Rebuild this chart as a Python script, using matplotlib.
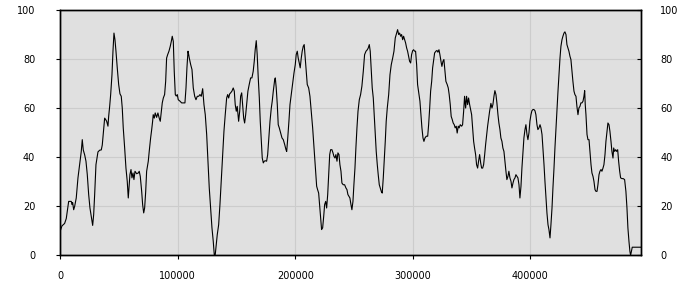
import numpy as np
import matplotlib
matplotlib.use("Agg")
import matplotlib.pyplot as plt

# positions in thousands
pos_k = [
    0, 1.45, 3.7, 5.1, 6.55, 7.15, 9.36, 9.96, 10.55, 11.4,
    12.25, 13.6, 15.06, 16.5, 17.87, 18.72, 19.57, 20.76, 21.87, 22.98,
    24.17, 25.27, 26.38, 27.57, 28.42, 29.27, 30.38, 31.23, 32.08, 33.53,
    34.89, 35.74, 36.93, 37.78, 38.64, 39.49, 40.59, 41.19, 42.04, 42.89,
    44.0, 44.85, 45.7, 46.55, 47.4, 48.5, 49.7, 50.8, 51.9, 52.76,
    53.6, 54.8, 55.9, 57.0, 57.87, 58.72,
    59.3, 60.2, 61.0, 61.9, 62.7, 63.6, 65.0, 66.4, 67.2, 68.1,
    69.3, 70.1, 71.0, 71.8, 72.7, 73.5, 74.9, 75.7, 76.9, 77.8,
    78.6, 79.1, 80.0, 80.8, 82.0, 83.1, 84.2, 85.1, 86.0, 86.8,
    87.7, 88.8, 89.7, 90.5, 91.4, 92.5, 93.6, 94.5, 95.3, 96.2,
    97.0, 97.9, 98.7, 99.6, 100.4, 101.9, 103.3, 104.7, 106.1, 107.0,
    107.8, 108.7, 109.3, 109.8, 111.0, 112.1, 113.2, 114.4, 115.5, 116.6,
    117.8, 118.9, 120.0, 121.2, 122.3,
    123.4, 124.6, 125.7, 126.8, 128.0, 129.1, 130.2, 131.1, 131.9, 132.8,
    133.6, 134.8, 135.9, 137.0, 138.2, 139.3, 140.4, 141.6, 142.5, 143.3,
    144.2, 145.0, 146.1, 147.2, 148.1, 148.9, 149.8, 150.6, 151.8, 152.7,
    153.5, 154.4, 155.2, 156.1, 156.9, 157.8, 158.9, 159.7, 160.8, 162.0,
    163.1, 164.2, 165.1, 165.9, 166.8, 167.6, 168.5, 169.4, 170.2, 171.1,
    171.9, 172.8, 173.6, 174.5, 175.6, 176.5, 177.3, 178.5, 179.6, 180.4,
    181.3, 182.5, 183.0, 183.8, 184.7, 185.5,
    186.4, 187.6, 188.7, 189.8, 191.0, 192.1, 192.7, 193.5, 194.6, 195.5,
    196.6, 197.8, 198.9, 200.0, 200.8, 201.7, 202.5, 203.4, 204.2, 205.1,
    205.9, 206.8, 207.6, 208.5, 209.3, 210.2, 211.4, 212.5, 213.6, 214.8,
    215.6, 216.5, 217.3, 218.2, 219.0, 219.9, 220.7, 221.6, 222.4, 223.3,
    224.2, 225.0, 225.9, 226.7, 227.6, 228.4, 229.3, 230.1, 231.2, 232.1,
    232.9, 233.8, 234.6, 235.5, 236.3, 237.2, 238.0, 238.9, 239.7, 240.8,
    242.0, 243.1,
    244.0, 244.8, 245.7, 246.5, 247.4, 248.2, 249.1, 249.9, 250.8, 251.6,
    252.5, 253.4, 254.5, 255.6, 256.7, 257.9, 259.0, 260.2, 261.3, 262.1,
    263.0, 263.8, 264.7, 265.5, 266.4, 267.2, 268.1, 268.9, 269.8, 270.6,
    271.5, 272.3, 273.2, 274.0, 274.9, 275.7, 276.6, 277.4, 278.3, 279.5,
    280.6, 281.7, 282.9, 284.0, 285.1, 286.3, 287.1, 288.0, 288.8, 289.7,
    290.5, 291.4, 292.2, 293.1, 293.9, 294.8, 295.6, 296.5, 297.3, 298.2,
    299.0, 299.9, 300.7, 301.6, 302.4, 303.3, 304.1,
    306.1, 307.0, 307.8, 308.7, 309.5, 310.4, 311.5, 312.7, 313.5, 314.4,
    315.2, 316.1, 316.9, 317.8, 318.6, 319.7, 320.6, 321.4, 322.3, 323.1,
    324.0, 324.8, 325.7, 326.5, 327.4, 328.2, 329.3, 330.2, 331.0, 331.9,
    332.7, 333.6, 334.4, 335.3, 336.1, 337.0, 337.8, 338.7, 339.5, 340.4,
    341.6, 342.4, 343.3, 344.1, 345.0, 345.8, 346.7, 347.5, 348.4, 349.2,
    350.1, 350.9, 351.8, 352.6, 353.5, 354.3, 355.2, 356.0, 356.9, 357.8,
    358.6, 359.5, 360.3, 361.2, 362.0, 362.9, 363.7, 364.6, 365.4,
    366.5, 367.4, 368.2, 369.1, 369.9, 370.8, 371.6, 372.5, 373.3, 374.2,
    375.0, 375.9, 376.7, 377.6, 378.4, 379.3, 380.1, 381.0, 381.8, 382.7,
    383.6, 384.4, 385.3, 386.1, 387.0, 387.8, 388.7, 389.5, 390.4, 391.2,
    392.1, 392.9, 393.8, 394.6, 395.5, 396.3, 397.2, 398.0, 398.9, 399.7,
    400.6, 401.4, 402.3, 403.1, 404.0, 404.8, 405.7, 406.5, 407.4, 408.3,
    409.1, 410.0, 410.8, 411.7, 412.5, 413.4, 414.2, 415.1, 415.9, 416.8,
    417.6, 418.5, 419.3, 420.2, 421.0, 421.9, 422.7, 423.6, 424.4, 425.3,
    426.1,
    427.0, 427.8, 428.7, 429.5, 430.4, 431.2, 432.1, 432.9, 433.8, 434.6,
    435.5, 436.3, 437.2, 438.0, 438.9, 439.7, 440.6, 441.4, 442.3, 443.1,
    444.0, 444.9, 445.7, 446.3, 446.8, 447.4, 448.3, 449.1, 450.0, 450.8,
    451.7, 452.5, 453.4, 454.2, 455.1, 455.9, 456.8, 457.6, 458.5, 459.3,
    460.2, 461.0, 461.9, 462.7, 463.6, 464.4, 465.3, 466.1, 467.0, 467.8,
    468.7, 469.5, 470.4, 471.0, 471.8, 472.7, 473.5, 474.4, 475.2, 476.1,
    476.9, 478.0, 479.1, 480.3, 481.4, 482.3, 483.1, 484.0, 484.8, 485.4,
    486.8, 494.0,
]

values = [
    10, 12, 13, 15, 20, 22, 22, 20.7, 21.5, 18.6,
    20, 23.4, 31.6, 37, 42.4, 47.2, 43, 41, 38.4, 33,
    24.8, 19.3, 16, 12.2, 16.6, 24.8, 37, 39.7, 42.2, 42.9,
    43, 45, 51.3, 56, 55.4, 54.7, 52.7, 56.7, 60.8, 65.6,
    73.7, 83.3, 90.7, 88, 83.3, 76.5, 69.7, 65.9, 64.9, 60.1,
    52, 43.8, 35.6, 30.2, 23.4, 28.8,
    33, 35, 31.6, 33.6, 30.9, 34.3, 33.3, 33.6, 34.3, 32.2,
    26, 20.7, 17.3, 19.3, 26, 34.3, 38.4, 42.4, 47.9, 51.3,
    54.7, 57.4, 56, 58.1, 56.3, 58.1, 56, 54.7, 58.8, 62.2,
    64.2, 65.6, 71, 80.5, 81.9, 83.3, 85.3, 87.3, 89.4, 87.3,
    75.1, 65.6, 65, 65.6, 63.5, 62.9, 62.2, 62.2, 62.2, 68.3,
    76.5, 83.3, 81.9, 80.5, 77.8, 75.8, 68.3, 64.9, 63.5, 64.9,
    64.9, 65.6, 64.9, 68, 61.5,
    57.4, 49.3, 38.4, 27.5, 19.3, 11.2, 5.7, 0, 0.3, 4.4,
    8.4, 12.5, 20.7, 30.2, 41, 50.6, 57.4, 64.2, 65.6, 64.2,
    65.9, 66.3, 67, 68.3, 67, 61.5, 58.8, 60.8, 54.7, 58.8,
    64.9, 66.3, 61.5, 56, 54, 57.4, 62.9, 67, 69.7, 72.4,
    72.4, 75.1, 79.2, 83.9, 87.6, 81.9, 72.4, 64.2, 54.7, 46.5,
    39.7, 37.7, 38.4, 38.6, 38.4, 41, 46.5, 54.7, 60.1, 62.9,
    67, 71.7, 72.4, 68.3, 61.5, 53.3,
    52, 49.9, 47.9, 47.2, 45.2, 43.1, 42.4, 47.2, 54.7, 61.5,
    65.6, 70.3, 74.4, 77.8, 81.9, 83.3, 80.5, 78.5, 76.5, 80.5,
    83.3, 85.3, 86, 80.5, 75.8, 69.7, 68.3, 64.9, 58.8, 52,
    46.5, 39.7, 34.3, 28.2, 26.8, 25.4, 20.7, 15.2, 10.5, 11.2,
    15.9, 20.7, 22, 19.3, 24.8, 32.9, 41.1, 43.1, 43.1, 41.8,
    40.4, 39.7, 41.1, 38.4, 41.8, 41.1, 37, 34.3, 29.5, 28.8,
    28.8, 27.5,
    26.8, 24.8, 24.1, 23.4, 20.7, 18.6, 22, 28.8, 35.6, 43.8,
    52, 58.8, 63.5, 65.6, 69, 75.1, 81.9, 83.3, 83.9, 84.6,
    86, 83.3, 75.1, 68.3, 64.2, 57.4, 49.9, 42.4, 37, 32.9,
    28.8, 27.5, 26.1, 25.4, 31.6, 38.4, 46.5, 54.7, 60.1, 65.6,
    73.7, 77.8, 80.5, 83.3, 88.7, 90.7, 92.1, 90.1, 90.7, 89.4,
    90.1, 88, 89.4, 88, 86.7, 84.6, 83.3, 81.2, 79.2, 78.5,
    81.9, 83.5, 83.9, 83.3, 83.3, 77.8, 69.7,
    62.9, 57.4, 52, 47.9, 46.5, 47.9, 48.6, 48.6, 53.3, 60.1,
    67, 71, 76.5, 79.9, 82.6, 83.3, 83.6, 82.9, 83.9, 81.9,
    79.2, 77.1, 79.2, 79.9, 75.1, 71, 69.7, 68.3, 65.6, 61.5,
    56.7, 55.4, 54, 53.3, 52, 52.7, 49.9, 52.7, 52, 53.3,
    52.7, 53.3, 58.8, 64.9, 60.1, 64.9, 61.5, 64.2, 61.5, 59.5,
    57.4, 52, 46.5, 43.8, 41.1, 37, 35.6, 38.4, 41.1, 37.7,
    35.6, 35.6, 37, 41.1, 45.2, 49.3, 52.7, 56, 58.8,
    62, 60.1, 61.5, 64.9, 67.2, 65.6, 62.2, 57.4, 54, 51.3,
    47.9, 46.5, 43.8, 42.4, 38.4, 34.3, 30.9, 32.2, 34.3, 31.6,
    30.2, 27.5, 29.5, 30.9, 31.6, 32.9, 32.2, 31.6, 28.8, 23.4,
    28.2, 35.6, 42.4, 47.9, 51.3, 53.3, 49.3, 47.2, 50, 54.7,
    57.4, 59, 59.5, 59.5, 59, 57.4, 53.3, 51.3, 52, 53.3,
    52, 49.3, 43.8, 37, 30.2, 23.4, 17.3, 12.5, 10.5, 7.1,
    12.5, 19.3, 27.5, 35.6, 43.8, 52, 60.1, 67, 73.7, 80.5,
    85.3,
    88, 89.4, 90.7, 91.2, 90.1, 86, 84.6, 83.3, 81.2, 79.9,
    75.1, 71, 67, 65.6, 64.9, 60.8, 57.4, 60.1, 60.8, 62.2,
    62.2, 62.9, 64.9, 67.2, 61.5, 57.4, 49.3, 47.2, 47.2, 42.4,
    37, 33.6, 32.2, 30.2, 26.8, 26.1, 26.1, 28.8, 32.9, 34.3,
    35, 34.3, 35.6, 37, 41.1, 46.5, 50.6, 54, 53.3, 50.6,
    46.5, 42.4, 39.7, 43.8, 42.4, 43.1, 42.4, 43.1, 38.4, 34.3,
    31.6, 31.3, 31.3, 30.9, 26.1, 19.3, 11.2, 5.7, 1.6, 0,
    3.3, 3.3,
]

x_ticks = [0, 100000, 200000, 300000, 400000]
y_ticks = [0, 20, 40, 60, 80, 100]

pos = np.array(pos_k) * 1000

fig = plt.figure(figsize=(7, 3), dpi=100)
ax = fig.add_axes([0.0861, 0.149, 0.8292, 0.8167])
ax.set_facecolor('#e0e0e0')
ax.plot(pos, values, color='black', lw=0.8)

ax.set_xlim(0, pos[-1])
ax.set_ylim(0, 100)
ax.set_xticks(x_ticks)
ax.set_xticklabels([str(t) for t in x_ticks])
ax.set_yticks(y_ticks)
ax.grid(True, color='#cccccc', lw=0.8)
ax.set_axisbelow(True)

ax.tick_params(axis='x', direction='out', length=3, pad=8, labelsize=7)
ax.tick_params(axis='y', direction='out', length=3, pad=15, labelsize=7)

ax2 = ax.twinx()
ax2.set_ylim(0, 100)
ax2.set_yticks(y_ticks)
ax2.tick_params(axis='y', direction='in', length=3, pad=14, labelsize=7)

for a in (ax, ax2):
    for s in a.spines.values():
        s.set_color('black')
        s.set_linewidth(1)

fig.savefig('out.png', dpi=100)
